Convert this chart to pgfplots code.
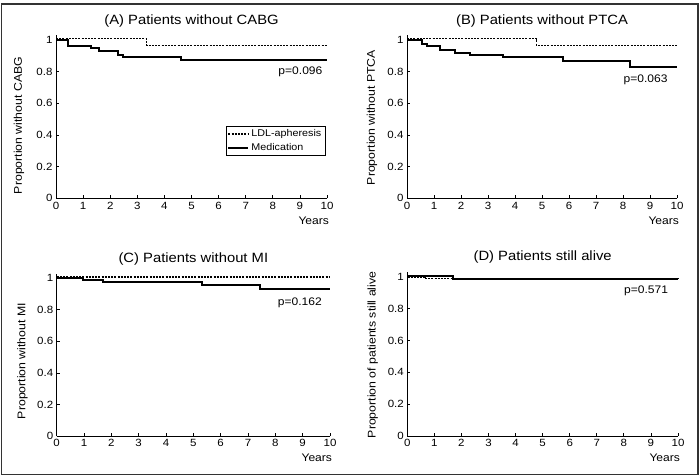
\documentclass[border=0pt]{standalone}
\usepackage{fontspec}
\setmainfont{Liberation Sans}[FakeStretch=1.1]
\usepackage{pgfplots}
\pgfplotsset{compat=1.18}
\pgfplotsset{
  km/.style={
    scale only axis, xmin=0, xmax=10, ymin=0, ymax=1.03,
    axis x line*=bottom, axis y line*=left,
    axis line style={-, line width=0.9bp, black},
    xtick={0,1,2,3,4,5,6,7,8,9,10}, ytick={0,0.2,0.4,0.6,0.8,1},
    tick align=inside, major tick length=3bp,
    tick style={line width=0.8bp, black},
    tick label style={font=\fontsize{10.5}{11}\selectfont},
    /pgf/number format/assume math mode=true,
    clip=false,
  },
  ldl/.style={const plot, no marks, line width=1.4bp, dash pattern=on 2bp off 1.2bp, black},
  med/.style={const plot, no marks, line width=2bp, black},
}
\tikzset{
  ttl/.style={font=\fontsize{13.5}{14}\selectfont},
  ylab/.style={rotate=90, font=\fontsize{11.2}{12}\selectfont},
  pv/.style={anchor=east, font=\fontsize{11}{12}\selectfont},
  yrs/.style={anchor=east, font=\fontsize{11}{12}\selectfont},
}
\begin{document}
\begin{tikzpicture}
\useasboundingbox (0,0) rectangle (700bp,476bp);
\draw[line width=1.4bp, black!80] (1.5bp,1.5bp) rectangle (698bp,472bp);

% (A)
\begin{axis}[km, at={(56bp,277.7bp)}, anchor=south west, width=271bp, height=163bp,
  legend style={at={(axis cs:9.93,0.457)}, anchor=north east, draw=black, line width=0.6bp,
    font=\fontsize{9.8}{10}\selectfont, inner sep=1.5bp, row sep=1bp},
  legend cell align=left,
  legend image code/.code={\draw[#1] (0bp,0bp) -- (20bp,0bp);}]
\addplot[ldl] coordinates {(0,1.008) (3.35,0.967) (10,0.967)};
\addlegendentry{LDL-apheresis}
\addplot[med] coordinates {(0,1) (0.45,0.965) (1.3,0.95) (1.6,0.932) (2.3,0.905) (2.48,0.89) (4.6,0.876) (10,0.876)};
\addlegendentry{Medication}
\node[ttl] at (axis cs:5,1.12) {(A) Patients without CABG};
\node[ylab] at (axis cs:-1.37,0.46) {Proportion without CABG};
\node[pv] at (axis cs:9.96,0.80) {p=0.096};
\node[yrs] at (axis cs:10.2,-0.14) {Years};
\end{axis}

% (B)
\begin{axis}[km, at={(407bp,277.7bp)}, anchor=south west, width=270bp, height=163bp]
\addplot[ldl] coordinates {(0,1.008) (4.8,0.965) (10,0.965)};
\addplot[med] coordinates {(0,1) (0.54,0.975) (0.73,0.96) (1.22,0.94) (1.78,0.92) (2.33,0.905) (3.57,0.89) (5.79,0.87) (8.26,0.832) (10,0.832)};
\node[ttl] at (axis cs:5,1.12) {(B) Patients without PTCA};
\node[ylab] at (axis cs:-1.3,0.51) {Proportion without PTCA};
\node[pv] at (axis cs:9.78,0.747) {p=0.063};
\node[yrs] at (axis cs:10.2,-0.14) {Years};
\end{axis}

% (C)
\begin{axis}[km, at={(56.7bp,40bp)}, anchor=south west, width=273.3bp, height=162.4bp]
\addplot[ldl] coordinates {(0,1.008) (10,1.008)};
\addplot[med] coordinates {(0,1) (0.97,0.99) (1.68,0.977) (5.3,0.955) (7.45,0.93) (10,0.93)};
\node[ttl] at (axis cs:5,1.125) {(C) Patients without MI};
\node[ylab] at (axis cs:-1.25,0.475) {Proportion without MI};
\node[pv] at (axis cs:9.83,0.845) {p=0.162};
\node[yrs] at (axis cs:10.2,-0.137) {Years};
\end{axis}

% (D)
\begin{axis}[km, at={(407.3bp,40bp)}, anchor=south west, width=270.7bp, height=163.8bp]
\addplot[ldl] coordinates {(0,1.0) (0.65,0.99) (10,0.99)};
\addplot[med] coordinates {(0,1.006) (1.7,0.988) (10,0.988)};
\node[ttl] at (axis cs:5,1.125) {(D) Patients still alive};
\node[ylab] at (axis cs:-1.28,0.51) {Proportion of patients still alive};
\node[pv] at (axis cs:9.76,0.912) {p=0.571};
\node[yrs] at (axis cs:10.2,-0.14) {Years};
\end{axis}
\end{tikzpicture}
\end{document}
